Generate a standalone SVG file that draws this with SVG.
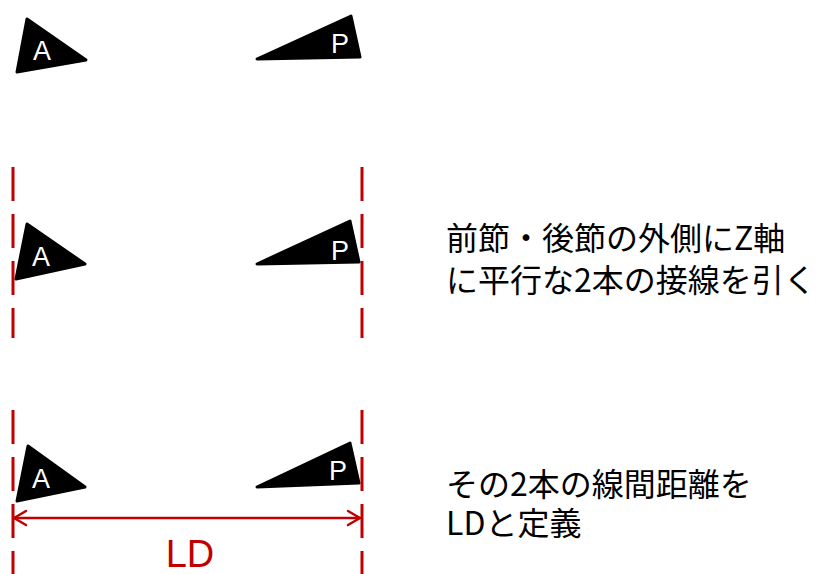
<svg xmlns="http://www.w3.org/2000/svg" width="830" height="574" viewBox="0 0 830 574">
<style>
.tri{fill:#000;stroke:#000;stroke-width:3;stroke-linejoin:round}
.lbl{font-family:"Liberation Sans",Arial,sans-serif;font-size:27px;fill:#fff;text-anchor:middle}
.dash{stroke:#c00000;stroke-width:3;stroke-dasharray:34 13;fill:none}
.arr{stroke:#c00000;stroke-width:2.5;fill:none;stroke-linecap:round;stroke-linejoin:round}
.jp{font-family:"Noto Sans CJK JP","Noto Sans",sans-serif;font-size:32px;fill:#000}
</style>
<rect width="830" height="574" fill="#fff"/>
<g id="connectors">
<line class="dash" x1="13" y1="167" x2="13" y2="338"/>
<line class="dash" x1="362" y1="167" x2="362" y2="338"/>
<line class="dash" x1="13" y1="410" x2="13" y2="574"/>
<line class="dash" x1="362" y1="410" x2="362" y2="574"/>
<line class="arr" x1="14" y1="518" x2="360" y2="518"/>
<polyline class="arr" points="26,511 14,518 26,525"/>
<polyline class="arr" points="348,511 360,518 348,525"/>
</g>
<g id="row1-A">
<polygon class="tri" points="27,19 86,60 17,72"/>
<text class="lbl" x="42" y="60">A</text>
</g>
<g id="row1-P">
<polygon class="tri" points="351,16 360,57 257,59"/>
<text class="lbl" x="340" y="53">P</text>
</g>
<g id="row2-A">
<polygon class="tri" points="27,224 85,264 16,279"/>
<text class="lbl" x="41" y="266">A</text>
</g>
<g id="row2-P">
<polygon class="tri" points="350,221 359,262 257,264"/>
<text class="lbl" x="340" y="260">P</text>
</g>
<g id="row3-A">
<polygon class="tri" points="28,446 85,487 17,501"/>
<text class="lbl" x="41" y="488">A</text>
</g>
<g id="row3-P">
<polygon class="tri" points="350,443 359,483 257,487"/>
<text class="lbl" x="338" y="480">P</text>
</g>
<g id="label-LD">
<text x="190" y="567" font-family="'Liberation Sans',Arial,sans-serif" font-size="38" fill="#c00000" text-anchor="middle">LD</text>
</g>
<g id="text-1">
<text class="jp" x="446" y="250">前節・後節の外側にZ軸</text>
<text class="jp" x="446" y="292">に平行な2本の接線を引く</text>
</g>
<g id="text-2">
<text class="jp" x="446" y="496">その2本の線間距離を</text>
<text class="jp" x="446" y="535">LDと定義</text>
</g>
</svg>
